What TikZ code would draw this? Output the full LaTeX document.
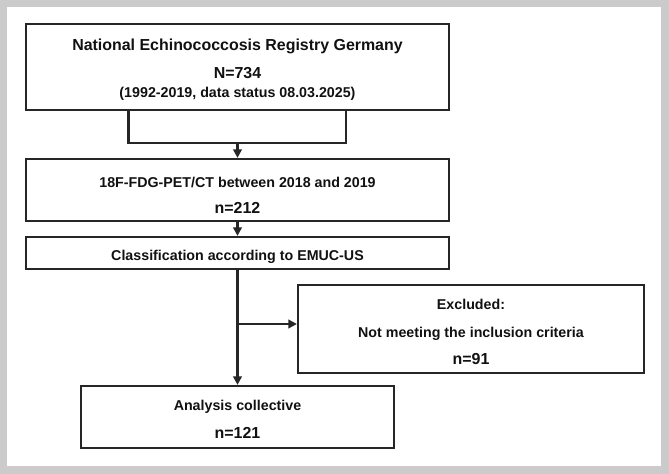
\documentclass[tikz,border=0pt]{standalone}
\usepackage{fontspec}
\setmainfont{Liberation Sans}
\usetikzlibrary{arrows.meta}
\definecolor{framegray}{HTML}{CBCBCB}
\definecolor{linegray}{HTML}{262626}
\definecolor{textgray}{HTML}{111111}

\begin{document}
\begin{tikzpicture}[x=1bp,y=-1bp,
  box/.style={draw=linegray, line width=2.2bp, fill=white, inner sep=0pt},
  txt/.style={text=textgray, inner sep=0pt, anchor=base, font=\bfseries\fontsize{14.3}{16}\selectfont},
  bigtxt/.style={txt, font=\bfseries\fontsize{16}{18}\selectfont},
  link/.style={draw=linegray, line width=2.2bp},
  flow/.style={link, -{Triangle[length=8.5bp,width=8.5bp]}}]
  \useasboundingbox (0,0) rectangle (669,474);
  \fill[framegray] (0,0) rectangle (669,474);
  \fill[white] (7,7) rectangle (661,466);

  \node[box, minimum width=423bp, minimum height=86bp] (reg) at (237.5,67) {};
  \node[box, minimum width=423bp, minimum height=62bp] (pet) at (237.5,190) {};
  \node[box, minimum width=423bp, minimum height=32bp] (cls) at (237.5,253) {};
  \node[box, minimum width=346bp, minimum height=88bp] (exc) at (471,329) {};
  \node[box, minimum width=313bp, minimum height=62bp] (ana) at (237.5,417) {};

  \node[bigtxt] (regname) at (237.5,51) {National Echinococcosis Registry Germany};
  \node[bigtxt] (regn) at (237.5,79) {N=734};
  \node[txt] (regdate) at (237.5,97.5) {(1992-2019, data status 08.03.2025)};
  \node[txt] (petname) at (237.5,188) {18F-FDG-PET/CT between 2018 and 2019};
  \node[bigtxt] (petn) at (237.5,213.5) {n=212};
  \node[txt] (clsname) at (237.5,261) {Classification according to EMUC-US};
  \node[txt] (excname) at (471,310) {Excluded:};
  \node[txt] (excwhy) at (471,337) {Not meeting the inclusion criteria};
  \node[bigtxt] (excn) at (471,364) {n=91};
  \node[txt] (ananame) at (237.5,410) {Analysis collective};
  \node[bigtxt] (anan) at (237.5,438) {n=121};

  \coordinate (bl) at (128.5,143);
  \coordinate (br) at (346,143);
  \coordinate (bm) at (237.5,143);
  \coordinate (split) at (237.5,324);
  \draw[link] (reg.south -| bl) -- (bl) -- (br) -- (reg.south -| br);
  \draw[flow] (bm) -- (pet.north);
  \draw[flow] (pet.south) -- (cls.north);
  \draw[flow] (cls.south) -- (ana.north);
  \draw[flow] (split) -- (split -| exc.west);
\end{tikzpicture}
\end{document}
